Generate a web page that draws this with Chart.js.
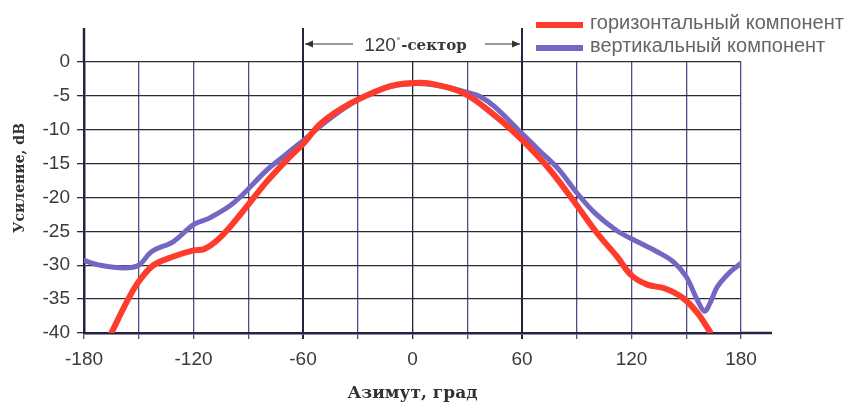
<!DOCTYPE html>
<html>
<head>
<meta charset="utf-8">
<script src="https://cdn.jsdelivr.net/npm/chart.js@4.4.1/dist/chart.umd.min.js"></script>
<style>
  html, body { margin: 0; padding: 0; background: #fff; }
  #wrap { width: 856px; height: 404px; }
</style>
</head>
<body>
<div id="wrap"><canvas id="gainChart"></canvas></div>
<script>
// Azimuth (deg) / gain (dB)
const hAzimuth = [-165, -156, -150, -142, -131, -120, -114, -105, -94, -80, -68, -60, -50, -34, -16, -8, 0, 10, 28, 46, 60, 74, 88, 101, 112, 120, 129, 138, 148, 156, 163];
const hGain    = [-40, -35.1, -32.4, -30, -28.7, -27.8, -27.6, -25.8, -22.4, -17.7, -14.2, -12.1, -9, -6.1, -3.9, -3.3, -3.1, -3.2, -4.6, -8.1, -11.5, -15.5, -20.4, -25.2, -28.7, -31.5, -32.9, -33.4, -34.8, -37, -39.8];

const vAzimuth = [-180, -171, -158, -150, -143, -131, -120, -111, -98, -80, -71, -60, -45, -30, -15, 0, 15, 30, 37, 45, 59, 70, 80, 90, 100, 112, 123, 134, 143, 150, 156, 160, 163, 167, 174, 180];
const vGain    = [-29.3, -30, -30.4, -30, -28, -26.5, -24, -23, -20.8, -16, -14, -11.6, -8.3, -5.6, -3.8, -3.2, -3.5, -4.5, -5.1, -6.6, -10.3, -13.2, -15.8, -19.3, -22.3, -24.9, -26.5, -28, -29.5, -31.7, -35.1, -36.8, -35.6, -33.2, -31, -29.7];

const seriesLabels = ['горизонтальный компонент', 'вертикальный компонент'];
const seriesColors = ['#ff3b2b', '#7466c2'];
const sectorEdges = [-60, 60];

const toPoints = (xs, ys) => xs.map((x, i) => ({ x: x, y: ys[i] }));

// extra drawing: extended axes, sector marker, legend, y title
const extrasPlugin = {
    id: 'extras',
    afterDraw(chart) {
        const ctx = chart.ctx;
        const area = chart.chartArea;
        const xs = chart.scales.x;
        const top = area.top - 34;
        ctx.save();

        // left axis and sector boundaries run up above the plot
        ctx.strokeStyle = '#23234a';
        ctx.lineWidth = 2.5;
        ctx.beginPath();
        ctx.moveTo(area.left, area.top);
        ctx.lineTo(area.left, top);
        ctx.stroke();
        ctx.lineWidth = 2;
        sectorEdges.forEach(v => {
            const px = xs.getPixelForValue(v);
            ctx.beginPath();
            ctx.moveTo(px, area.top);
            ctx.lineTo(px, top);
            ctx.stroke();
        });

        // bottom axis extends past 180
        ctx.lineWidth = 2.5;
        ctx.beginPath();
        ctx.moveTo(area.right, area.bottom);
        ctx.lineTo(area.right + 31, area.bottom);
        ctx.stroke();

        // sector arrows
        const x1 = xs.getPixelForValue(sectorEdges[0]);
        const x2 = xs.getPixelForValue(sectorEdges[1]);
        const ay = area.top - 18;
        ctx.lineWidth = 1.2;
        ctx.strokeStyle = '#333';
        ctx.fillStyle = '#333';
        ctx.beginPath();
        ctx.moveTo(x1 + 2, ay); ctx.lineTo(x1 + 50, ay);
        ctx.moveTo(x2 - 37, ay); ctx.lineTo(x2 - 2, ay);
        ctx.stroke();
        ctx.beginPath();
        ctx.moveTo(x1 + 2, ay); ctx.lineTo(x1 + 10, ay - 3.5); ctx.lineTo(x1 + 10, ay + 3.5); ctx.closePath();
        ctx.moveTo(x2 - 2, ay); ctx.lineTo(x2 - 10, ay - 3.5); ctx.lineTo(x2 - 10, ay + 3.5); ctx.closePath();
        ctx.fill();

        // sector text: "120" sans, degree mark, "-сектор" bold serif
        const fNum = '19px "Liberation Sans", Arial, sans-serif';
        const fDeg = '10px "Liberation Sans", Arial, sans-serif';
        const fWord = 'bold 15px "DejaVu Serif", serif';
        ctx.font = fNum; const wNum = ctx.measureText('120').width;
        ctx.font = fDeg; const wDeg = ctx.measureText('˚').width;
        ctx.font = fWord; const wWord = ctx.measureText('-сектор').width;
        let tx = (x1 + x2) / 2 + 3 - (wNum + wDeg + 2 + wWord) / 2;
        ctx.textBaseline = 'alphabetic';
        ctx.fillStyle = '#3a3a3a';
        ctx.font = fNum; ctx.fillText('120', tx, ay + 7); tx += wNum + 1;
        ctx.font = fDeg; ctx.fillText('˚', tx, ay + 2); tx += wDeg + 1;
        ctx.font = fWord; ctx.fillText('-сектор', tx, ay + 6);

        // legend
        ctx.font = '20px "Liberation Sans", Arial, sans-serif';
        ctx.textBaseline = 'middle';
        seriesLabels.forEach((lbl, i) => {
            const ly = 25 + i * 23;
            ctx.fillStyle = seriesColors[i];
            ctx.fillRect(536, ly - 3, 47, 6);
            ctx.fillStyle = '#666';
            ctx.fillText(lbl, 590, ly - 2, 262);
        });

        // y axis title
        ctx.translate(20, 178);
        ctx.rotate(-Math.PI / 2);
        ctx.textAlign = 'center';
        ctx.fillStyle = '#333';
        ctx.font = 'bold 14px "DejaVu Serif", serif';
        ctx.fillText('Усиление, dB', 0, 0);
        ctx.restore();
    }
};

function initChart() {
    const ctx = document.getElementById('gainChart').getContext('2d');
    return new Chart(ctx, {
        type: 'line',
        data: {
            datasets: [{
                label: seriesLabels[0],
                data: toPoints(hAzimuth, hGain),
                borderColor: seriesColors[0],
                borderWidth: 6,
                pointRadius: 0,
                tension: 0.35,
                borderCapStyle: 'round'
            }, {
                label: seriesLabels[1],
                data: toPoints(vAzimuth, vGain),
                borderColor: seriesColors[1],
                borderWidth: 5,
                pointRadius: 0,
                tension: 0.35,
                borderCapStyle: 'round'
            }]
        },
        options: {
            responsive: true,
            maintainAspectRatio: false,
            animation: false,
            layout: { padding: { top: 62, right: 115, left: 0, bottom: 0 } },
            plugins: { legend: { display: false }, tooltip: { enabled: false } },
            scales: {
                x: {
                    type: 'linear',
                    min: -180,
                    max: 180,
                    afterFit: s => { s.height = 71; },
                    border: { display: true, color: '#23234a', width: 2.5 },
                    grid: {
                        color: c => (sectorEdges.includes(c.tick.value) || c.tick.value === 0) ? '#22223a' : '#4e4e8c',
                        lineWidth: c => sectorEdges.includes(c.tick.value) ? 2 : 1.3,
                        tickLength: 6
                    },
                    ticks: {
                        stepSize: 30,
                        autoSkip: false,
                        maxRotation: 0,
                        padding: 9,
                        color: '#3a3a3a',
                        font: { family: '"Liberation Sans", Arial, sans-serif', size: 19 },
                        callback: v => (v % 60 === 0 ? String(v) : '')
                    },
                    title: {
                        display: true,
                        text: 'Азимут, град',
                        color: '#333',
                        padding: { top: 4, bottom: 0 },
                        font: { family: '"DejaVu Serif", serif', size: 17, weight: 'bold', lineHeight: 1.2 }
                    }
                },
                y: {
                    min: -40,
                    max: 0,
                    afterFit: s => { s.width = 84; },
                    border: { display: true, color: '#23234a', width: 2.5 },
                    grid: { color: '#2b2b36', lineWidth: 1.3, tickLength: 7 },
                    ticks: {
                        stepSize: 5,
                        padding: 7,
                        color: '#3a3a3a',
                        font: { family: '"Liberation Sans", Arial, sans-serif', size: 19 }
                    }
                }
            }
        },
        plugins: [extrasPlugin]
    });
}

initChart();
</script>
</body>
</html>
